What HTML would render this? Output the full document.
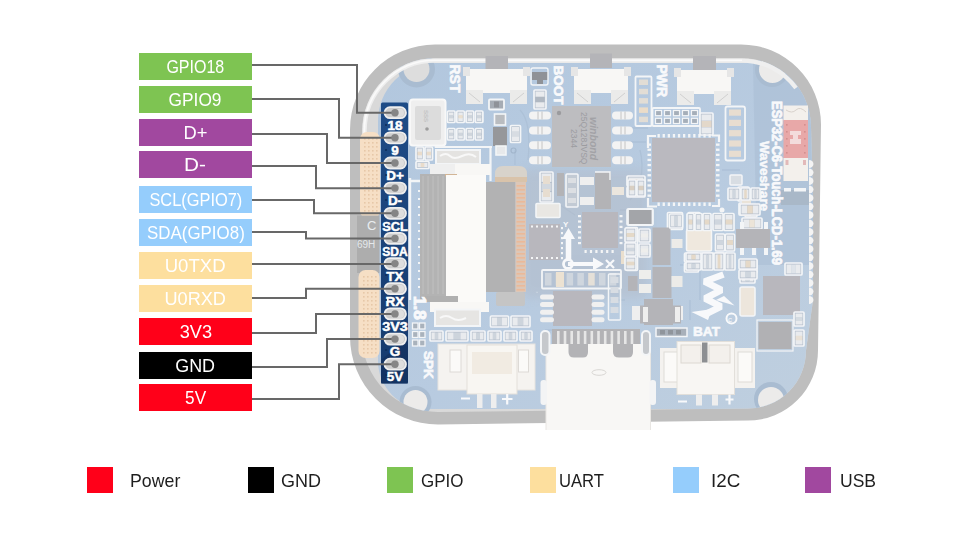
<!DOCTYPE html>
<html><head><meta charset="utf-8"><style>
html,body{margin:0;padding:0;background:#fff;}
body{width:960px;height:533px;position:relative;overflow:hidden;font-family:"Liberation Sans",sans-serif;}
.lb{position:absolute;left:139px;width:113px;height:27px;color:#fff;font-size:19px;line-height:28px;text-align:center;}
.lb span{display:inline-block;transform:scaleX(0.88);transform-origin:50% 50%;white-space:nowrap;}
.sq{position:absolute;top:467px;width:26px;height:26px;}
.lt{position:absolute;top:467px;height:26px;line-height:28px;font-size:19px;color:#1e1e1e;transform-origin:0 50%;white-space:nowrap;}
svg{position:absolute;left:0;top:0;}
</style></head><body>
<div class="lb" style="top:53px;background:#7EC452"><span style="transform:scaleX(0.843)">GPIO18</span></div>
<div class="lb" style="top:86px;background:#7EC452"><span style="transform:scaleX(0.911)">GPIO9</span></div>
<div class="lb" style="top:119px;background:#A1489F"><span style="transform:scaleX(0.965)">D+</span></div>
<div class="lb" style="top:151px;background:#A1489F"><span style="transform:scaleX(1.09)">D-</span></div>
<div class="lb" style="top:186px;background:#95CDFC"><span style="transform:scaleX(0.863)">SCL(GPIO7)</span></div>
<div class="lb" style="top:219px;background:#95CDFC"><span style="transform:scaleX(0.89)">SDA(GPIO8)</span></div>
<div class="lb" style="top:252px;background:#FDDF9E"><span style="transform:scaleX(0.977)">U0TXD</span></div>
<div class="lb" style="top:285px;background:#FDDF9E"><span style="transform:scaleX(0.955)">U0RXD</span></div>
<div class="lb" style="top:318px;background:#FF0019"><span style="transform:scaleX(0.957)">3V3</span></div>
<div class="lb" style="top:352px;background:#000000"><span style="transform:scaleX(0.944)">GND</span></div>
<div class="lb" style="top:384px;background:#FF0019"><span style="transform:scaleX(0.904)">5V</span></div>
<div class="sq" style="left:87px;background:#FF0019"></div><div class="lt" style="left:129.5px;transform:scaleX(0.935)">Power</div>
<div class="sq" style="left:248px;background:#000000"></div><div class="lt" style="left:281px;transform:scaleX(0.946)">GND</div>
<div class="sq" style="left:387px;background:#7EC452"></div><div class="lt" style="left:421px;transform:scaleX(0.893)">GPIO</div>
<div class="sq" style="left:530px;background:#FDDF9E"></div><div class="lt" style="left:559px;transform:scaleX(0.876)">UART</div>
<div class="sq" style="left:673px;background:#95CDFC"></div><div class="lt" style="left:710.7px;transform:scaleX(0.99)">I2C</div>
<div class="sq" style="left:805px;background:#A1489F"></div><div class="lt" style="left:840px;transform:scaleX(0.923)">USB</div>
<svg width="960" height="533" viewBox="0 0 960 533">
<defs><clipPath id="inn"><path d="M435,58.2 L742,58.2 A69,69 0 0 1 811,127 L813,200 L813,300 L806,350.5 A58,58 0 0 1 748,408.5 L438,412 A76,76 0 0 1 362,336 L362,131 A73,73 0 0 1 435,58.2 Z"/></clipPath><linearGradient id="pg" x1="0" y1="0" x2="1" y2="1"><stop offset="0" stop-color="#b2c7de"/><stop offset="0.55" stop-color="#b8cbe0"/><stop offset="1" stop-color="#bfcfdf"/></linearGradient></defs>
<path d="M435,44.5 L741,44.5 A80,80 0 0 1 821,124.5 L818,350.5 A70,70 0 0 1 748,420.5 L438,424.5 A88,88 0 0 1 350,336.5 L350,129.5 A85,85 0 0 1 435,44.5 Z" fill="#bebebe"/>
<g clip-path="url(#inn)">
<rect x="350" y="45" width="470" height="380" fill="#d9d9d9" />
<path d="M436,63 H813 V409 H426 A48,48 0 0 1 378,361 V121 A58,58 0 0 1 436,63 Z" fill="url(#pg)"/>
<g fill="none" stroke="#adc1d7" stroke-width="1.3"><path d="M515,150 V165 M520,110 C530,120 530,140 528,160 M640,150 C645,170 640,190 630,200 M620,210 H650 M700,215 V225 M560,205 L575,215"/><path d="M620,128 H648 M620,142 H646 M722,170 H740 M735,180 L745,195 M560,330 H545 M470,300 V312 M610,300 H625"/><path d="M440,140 H446 M520,168 V180 M700,260 V300 M690,300 V320 M680,265 H690"/></g>
<path d="M753,63 H813 V265 H757 Z" fill="#a9bdd3" opacity="0.55"/>
<defs><filter id="bl" x="-20%" y="-20%" width="140%" height="140%"><feGaussianBlur stdDeviation="5"/></filter></defs>
<rect x="520" y="170" width="128" height="128" rx="10" fill="#b3bbc8" opacity="0.5" filter="url(#bl)"/>
<rect x="781" y="190" width="28" height="15" fill="#a9b8c8" />
<circle cx="416.5" cy="69" r="18.5" fill="#a9bcd1"/>
<circle cx="416.5" cy="69" r="13" fill="#dddddd"/>
<circle cx="772" cy="70" r="17" fill="#a9bcd1"/>
<circle cx="772.5" cy="69.5" r="13.5" fill="#ecebea"/>
<circle cx="415.5" cy="402" r="16" fill="#a9bcd1"/>
<circle cx="415.5" cy="402" r="12" fill="#ecebea"/>
<circle cx="771" cy="399" r="17" fill="#a9bcd1"/>
<circle cx="771" cy="400" r="13" fill="#ecebea"/>
</g>
<path d="M435,60.6 L742,60.6 A66.5,66.5 0 0 1 796,88 M364.6,300 L364.6,131 A70.6,70.6 0 0 1 435,60.6" fill="none" stroke="#efefef" stroke-width="4.2"/>
<path d="M435,60.3 L742,60.3 M364.3,250 L364.3,131 A70.9,70.9 0 0 1 435,60.3" fill="none" stroke="#fafafa" stroke-width="1.6"/>
<g fill="#f4f4f4"><path d="M809,160.0 a4.5,4 0 0 1 0,8 Z"/><path d="M809,168.5 a4.5,4 0 0 1 0,8 Z"/><path d="M809,177.0 a4.5,4 0 0 1 0,8 Z"/><path d="M809,185.5 a4.5,4 0 0 1 0,8 Z"/><path d="M809,194.0 a4.5,4 0 0 1 0,8 Z"/><path d="M809,202.5 a4.5,4 0 0 1 0,8 Z"/><path d="M809,211.0 a4.5,4 0 0 1 0,8 Z"/><path d="M809,219.5 a4.5,4 0 0 1 0,8 Z"/><path d="M809,228.0 a4.5,4 0 0 1 0,8 Z"/><path d="M809,236.5 a4.5,4 0 0 1 0,8 Z"/><path d="M809,245.0 a4.5,4 0 0 1 0,8 Z"/><path d="M809,253.5 a4.5,4 0 0 1 0,8 Z"/><path d="M809,262.0 a4.5,4 0 0 1 0,8 Z"/><path d="M809,270.5 a4.5,4 0 0 1 0,8 Z"/><path d="M809,279.0 a4.5,4 0 0 1 0,8 Z"/><path d="M809,287.5 a4.5,4 0 0 1 0,8 Z"/><path d="M809,296.0 a4.5,4 0 0 1 0,8 Z"/></g>
<rect x="360" y="132" width="20" height="86" rx="7" fill="#f6dfc5"/>
<rect x="357" y="215.5" width="22.5" height="57.5" fill="#adadad" />
<rect x="358.5" y="270" width="21" height="88" rx="7" fill="#f6dfc5"/>
<g fill="#e6c8a8"><rect x="364" y="138" width="1.6" height="1.6"/><rect x="368" y="138" width="1.6" height="1.6"/><rect x="372" y="138" width="1.6" height="1.6"/><rect x="376" y="138" width="1.6" height="1.6"/><rect x="364" y="142" width="1.6" height="1.6"/><rect x="368" y="142" width="1.6" height="1.6"/><rect x="372" y="142" width="1.6" height="1.6"/><rect x="376" y="142" width="1.6" height="1.6"/><rect x="364" y="146" width="1.6" height="1.6"/><rect x="368" y="146" width="1.6" height="1.6"/><rect x="372" y="146" width="1.6" height="1.6"/><rect x="376" y="146" width="1.6" height="1.6"/><rect x="364" y="150" width="1.6" height="1.6"/><rect x="368" y="150" width="1.6" height="1.6"/><rect x="372" y="150" width="1.6" height="1.6"/><rect x="376" y="150" width="1.6" height="1.6"/><rect x="364" y="154" width="1.6" height="1.6"/><rect x="368" y="154" width="1.6" height="1.6"/><rect x="372" y="154" width="1.6" height="1.6"/><rect x="376" y="154" width="1.6" height="1.6"/><rect x="364" y="158" width="1.6" height="1.6"/><rect x="368" y="158" width="1.6" height="1.6"/><rect x="372" y="158" width="1.6" height="1.6"/><rect x="376" y="158" width="1.6" height="1.6"/><rect x="364" y="162" width="1.6" height="1.6"/><rect x="368" y="162" width="1.6" height="1.6"/><rect x="372" y="162" width="1.6" height="1.6"/><rect x="376" y="162" width="1.6" height="1.6"/><rect x="364" y="166" width="1.6" height="1.6"/><rect x="368" y="166" width="1.6" height="1.6"/><rect x="372" y="166" width="1.6" height="1.6"/><rect x="376" y="166" width="1.6" height="1.6"/><rect x="364" y="170" width="1.6" height="1.6"/><rect x="368" y="170" width="1.6" height="1.6"/><rect x="372" y="170" width="1.6" height="1.6"/><rect x="376" y="170" width="1.6" height="1.6"/><rect x="364" y="174" width="1.6" height="1.6"/><rect x="368" y="174" width="1.6" height="1.6"/><rect x="372" y="174" width="1.6" height="1.6"/><rect x="376" y="174" width="1.6" height="1.6"/><rect x="364" y="178" width="1.6" height="1.6"/><rect x="368" y="178" width="1.6" height="1.6"/><rect x="372" y="178" width="1.6" height="1.6"/><rect x="376" y="178" width="1.6" height="1.6"/><rect x="364" y="182" width="1.6" height="1.6"/><rect x="368" y="182" width="1.6" height="1.6"/><rect x="372" y="182" width="1.6" height="1.6"/><rect x="376" y="182" width="1.6" height="1.6"/><rect x="364" y="186" width="1.6" height="1.6"/><rect x="368" y="186" width="1.6" height="1.6"/><rect x="372" y="186" width="1.6" height="1.6"/><rect x="376" y="186" width="1.6" height="1.6"/><rect x="364" y="190" width="1.6" height="1.6"/><rect x="368" y="190" width="1.6" height="1.6"/><rect x="372" y="190" width="1.6" height="1.6"/><rect x="376" y="190" width="1.6" height="1.6"/><rect x="364" y="194" width="1.6" height="1.6"/><rect x="368" y="194" width="1.6" height="1.6"/><rect x="372" y="194" width="1.6" height="1.6"/><rect x="376" y="194" width="1.6" height="1.6"/><rect x="364" y="198" width="1.6" height="1.6"/><rect x="368" y="198" width="1.6" height="1.6"/><rect x="372" y="198" width="1.6" height="1.6"/><rect x="376" y="198" width="1.6" height="1.6"/><rect x="364" y="202" width="1.6" height="1.6"/><rect x="368" y="202" width="1.6" height="1.6"/><rect x="372" y="202" width="1.6" height="1.6"/><rect x="376" y="202" width="1.6" height="1.6"/><rect x="364" y="206" width="1.6" height="1.6"/><rect x="368" y="206" width="1.6" height="1.6"/><rect x="372" y="206" width="1.6" height="1.6"/><rect x="376" y="206" width="1.6" height="1.6"/><rect x="364" y="210" width="1.6" height="1.6"/><rect x="368" y="210" width="1.6" height="1.6"/><rect x="372" y="210" width="1.6" height="1.6"/><rect x="376" y="210" width="1.6" height="1.6"/><rect x="363" y="276" width="1.6" height="1.6"/><rect x="367" y="276" width="1.6" height="1.6"/><rect x="371" y="276" width="1.6" height="1.6"/><rect x="375" y="276" width="1.6" height="1.6"/><rect x="363" y="280" width="1.6" height="1.6"/><rect x="367" y="280" width="1.6" height="1.6"/><rect x="371" y="280" width="1.6" height="1.6"/><rect x="375" y="280" width="1.6" height="1.6"/><rect x="363" y="284" width="1.6" height="1.6"/><rect x="367" y="284" width="1.6" height="1.6"/><rect x="371" y="284" width="1.6" height="1.6"/><rect x="375" y="284" width="1.6" height="1.6"/><rect x="363" y="288" width="1.6" height="1.6"/><rect x="367" y="288" width="1.6" height="1.6"/><rect x="371" y="288" width="1.6" height="1.6"/><rect x="375" y="288" width="1.6" height="1.6"/><rect x="363" y="292" width="1.6" height="1.6"/><rect x="367" y="292" width="1.6" height="1.6"/><rect x="371" y="292" width="1.6" height="1.6"/><rect x="375" y="292" width="1.6" height="1.6"/><rect x="363" y="296" width="1.6" height="1.6"/><rect x="367" y="296" width="1.6" height="1.6"/><rect x="371" y="296" width="1.6" height="1.6"/><rect x="375" y="296" width="1.6" height="1.6"/><rect x="363" y="300" width="1.6" height="1.6"/><rect x="367" y="300" width="1.6" height="1.6"/><rect x="371" y="300" width="1.6" height="1.6"/><rect x="375" y="300" width="1.6" height="1.6"/><rect x="363" y="304" width="1.6" height="1.6"/><rect x="367" y="304" width="1.6" height="1.6"/><rect x="371" y="304" width="1.6" height="1.6"/><rect x="375" y="304" width="1.6" height="1.6"/><rect x="363" y="308" width="1.6" height="1.6"/><rect x="367" y="308" width="1.6" height="1.6"/><rect x="371" y="308" width="1.6" height="1.6"/><rect x="375" y="308" width="1.6" height="1.6"/><rect x="363" y="312" width="1.6" height="1.6"/><rect x="367" y="312" width="1.6" height="1.6"/><rect x="371" y="312" width="1.6" height="1.6"/><rect x="375" y="312" width="1.6" height="1.6"/><rect x="363" y="316" width="1.6" height="1.6"/><rect x="367" y="316" width="1.6" height="1.6"/><rect x="371" y="316" width="1.6" height="1.6"/><rect x="375" y="316" width="1.6" height="1.6"/><rect x="363" y="320" width="1.6" height="1.6"/><rect x="367" y="320" width="1.6" height="1.6"/><rect x="371" y="320" width="1.6" height="1.6"/><rect x="375" y="320" width="1.6" height="1.6"/><rect x="363" y="324" width="1.6" height="1.6"/><rect x="367" y="324" width="1.6" height="1.6"/><rect x="371" y="324" width="1.6" height="1.6"/><rect x="375" y="324" width="1.6" height="1.6"/><rect x="363" y="328" width="1.6" height="1.6"/><rect x="367" y="328" width="1.6" height="1.6"/><rect x="371" y="328" width="1.6" height="1.6"/><rect x="375" y="328" width="1.6" height="1.6"/><rect x="363" y="332" width="1.6" height="1.6"/><rect x="367" y="332" width="1.6" height="1.6"/><rect x="371" y="332" width="1.6" height="1.6"/><rect x="375" y="332" width="1.6" height="1.6"/><rect x="363" y="336" width="1.6" height="1.6"/><rect x="367" y="336" width="1.6" height="1.6"/><rect x="371" y="336" width="1.6" height="1.6"/><rect x="375" y="336" width="1.6" height="1.6"/><rect x="363" y="340" width="1.6" height="1.6"/><rect x="367" y="340" width="1.6" height="1.6"/><rect x="371" y="340" width="1.6" height="1.6"/><rect x="375" y="340" width="1.6" height="1.6"/><rect x="363" y="344" width="1.6" height="1.6"/><rect x="367" y="344" width="1.6" height="1.6"/><rect x="371" y="344" width="1.6" height="1.6"/><rect x="375" y="344" width="1.6" height="1.6"/><rect x="363" y="348" width="1.6" height="1.6"/><rect x="367" y="348" width="1.6" height="1.6"/><rect x="371" y="348" width="1.6" height="1.6"/><rect x="375" y="348" width="1.6" height="1.6"/><rect x="363" y="352" width="1.6" height="1.6"/><rect x="367" y="352" width="1.6" height="1.6"/><rect x="371" y="352" width="1.6" height="1.6"/><rect x="375" y="352" width="1.6" height="1.6"/></g>
<text x="367" y="230" font-family="Liberation Sans" font-size="13" fill="#e9edf0">C</text>
<text x="357" y="248" font-family="Liberation Sans" font-size="10" fill="#e4e8ea">69H</text>
<rect x="485.5" y="56" width="22.5" height="14.5" fill="#b4b4b8" />
<rect x="466" y="69" width="61" height="24" fill="#f8f7f5" />
<rect x="466" y="90" width="17" height="14" fill="#ebebea" />
<rect x="510" y="90" width="17" height="14" fill="#ebebea" />
<path d="M469,93 L480,102 M524,93 L513,102" stroke="#d0d0d0" stroke-width="1"/>
<rect x="463" y="67" width="7" height="9" fill="#e6e6e6" />
<rect x="523" y="67" width="7" height="9" fill="#e6e6e6" />
<rect x="590" y="53.5" width="22" height="14.5" fill="#b4b4b8" />
<rect x="574" y="69" width="54" height="24" fill="#f8f7f5" />
<rect x="574" y="90" width="17" height="14" fill="#ebebea" />
<rect x="611" y="90" width="17" height="14" fill="#ebebea" />
<path d="M577,93 L588,102 M625,93 L614,102" stroke="#d0d0d0" stroke-width="1"/>
<rect x="571" y="67" width="7" height="9" fill="#e6e6e6" />
<rect x="624" y="67" width="7" height="9" fill="#e6e6e6" />
<rect x="693" y="56" width="23" height="14.5" fill="#b4b4b8" />
<rect x="677" y="70" width="54" height="24" fill="#f8f7f5" />
<rect x="677" y="91" width="17" height="14" fill="#ebebea" />
<rect x="714" y="91" width="17" height="14" fill="#ebebea" />
<path d="M680,94 L691,103 M728,94 L717,103" stroke="#d0d0d0" stroke-width="1"/>
<rect x="674" y="68" width="7" height="9" fill="#e6e6e6" />
<rect x="727" y="68" width="7" height="9" fill="#e6e6e6" />
<text x="449.5" y="64.5" transform="rotate(90 449.5 64.5)" font-family="Liberation Sans" font-weight="bold" font-size="14" fill="#f8f9fb" stroke="#f8f9fb" stroke-width="0.7" >RST</text>
<text x="553.5" y="65.5" transform="rotate(90 553.5 65.5)" font-family="Liberation Sans" font-weight="bold" font-size="13.5" fill="#f8f9fb" stroke="#f8f9fb" stroke-width="0.7" >BOOT</text>
<text x="656.5" y="64.5" transform="rotate(90 656.5 64.5)" font-family="Liberation Sans" font-weight="bold" font-size="14" fill="#f8f9fb" stroke="#f8f9fb" stroke-width="0.7" >PWR</text>
<rect x="410" y="99.5" width="35.5" height="46" rx="3" fill="#efefef" stroke="#f8f8f8" stroke-width="2"/>
<rect x="415" y="106" width="26" height="34" rx="2" fill="#dcdcdc"/>
<text x="424" y="110" transform="rotate(90 424 110)" font-family="Liberation Sans" font-size="6" fill="#b5b5b5">SSS</text>
<circle cx="427" cy="129" r="1.8" fill="#9d9d9d"/>
<rect x="447.5" y="111.0" width="7.5" height="11.5" rx="1" fill="#b4bfcc" stroke="#f3f5f7" stroke-width="1.7"/>
<rect x="449.0" y="112.5" width="4.5" height="3.22" fill="#e9ebee" />
<rect x="449.0" y="117.78" width="4.5" height="3.22" fill="#e9ebee" />
<rect x="449.0" y="115.14" width="4.5" height="3.22" fill="#cfd5dc" />
<rect x="456.8" y="111.0" width="7.5" height="11.5" rx="1" fill="#b4bfcc" stroke="#f3f5f7" stroke-width="1.7"/>
<rect x="458.3" y="112.5" width="4.5" height="3.22" fill="#e9ebee" />
<rect x="458.3" y="117.78" width="4.5" height="3.22" fill="#e9ebee" />
<rect x="458.3" y="115.14" width="4.5" height="3.22" fill="#eadfcf" />
<rect x="466.1" y="111.0" width="7.5" height="11.5" rx="1" fill="#b4bfcc" stroke="#f3f5f7" stroke-width="1.7"/>
<rect x="467.6" y="112.5" width="4.5" height="3.22" fill="#e9ebee" />
<rect x="467.6" y="117.78" width="4.5" height="3.22" fill="#e9ebee" />
<rect x="467.6" y="115.14" width="4.5" height="3.22" fill="#cfd5dc" />
<rect x="475.4" y="111.0" width="7.5" height="11.5" rx="1" fill="#b4bfcc" stroke="#f3f5f7" stroke-width="1.7"/>
<rect x="476.9" y="112.5" width="4.5" height="3.22" fill="#e9ebee" />
<rect x="476.9" y="117.78" width="4.5" height="3.22" fill="#e9ebee" />
<rect x="476.9" y="115.14" width="4.5" height="3.22" fill="#cfd5dc" />
<rect x="447.5" y="128.5" width="7.5" height="11.5" rx="1" fill="#b4bfcc" stroke="#f3f5f7" stroke-width="1.7"/>
<rect x="449.0" y="130.0" width="4.5" height="3.22" fill="#e9ebee" />
<rect x="449.0" y="135.28" width="4.5" height="3.22" fill="#e9ebee" />
<rect x="449.0" y="132.64" width="4.5" height="3.22" fill="#cfd5dc" />
<rect x="456.8" y="128.5" width="7.5" height="11.5" rx="1" fill="#b4bfcc" stroke="#f3f5f7" stroke-width="1.7"/>
<rect x="458.3" y="130.0" width="4.5" height="3.22" fill="#e9ebee" />
<rect x="458.3" y="135.28" width="4.5" height="3.22" fill="#e9ebee" />
<rect x="458.3" y="132.64" width="4.5" height="3.22" fill="#cfd5dc" />
<rect x="466.1" y="128.5" width="7.5" height="11.5" rx="1" fill="#b4bfcc" stroke="#f3f5f7" stroke-width="1.7"/>
<rect x="467.6" y="130.0" width="4.5" height="3.22" fill="#e9ebee" />
<rect x="467.6" y="135.28" width="4.5" height="3.22" fill="#e9ebee" />
<rect x="467.6" y="132.64" width="4.5" height="3.22" fill="#cfd5dc" />
<rect x="475.4" y="128.5" width="7.5" height="11.5" rx="1" fill="#b4bfcc" stroke="#f3f5f7" stroke-width="1.7"/>
<rect x="476.9" y="130.0" width="4.5" height="3.22" fill="#e9ebee" />
<rect x="476.9" y="135.28" width="4.5" height="3.22" fill="#e9ebee" />
<rect x="476.9" y="132.64" width="4.5" height="3.22" fill="#cfd5dc" />
<rect x="489" y="99.5" width="15" height="10" rx="1" fill="#a6acb4" stroke="#f3f5f7" stroke-width="1.8"/>
<rect x="494" y="101.5" width="5" height="6" fill="#8f9298" />
<rect x="493" y="127" width="14" height="19" fill="#96979a" />
<rect x="494.5" y="114" width="11" height="11" rx="0" fill="#b9bcc0" stroke="#f3f5f7" stroke-width="1.6"/>
<rect x="496" y="146" width="10" height="9" rx="0" fill="#e7e9eb" stroke="#f3f5f7" stroke-width="1.6"/>
<rect x="510.5" y="125.5" width="10" height="17" rx="1" fill="#b4bfcc" stroke="#f3f5f7" stroke-width="1.7"/>
<rect x="512.0" y="127.0" width="7" height="4.760000000000001" fill="#e9ebee" />
<rect x="512.0" y="136.24" width="7" height="4.760000000000001" fill="#e9ebee" />
<rect x="512.0" y="131.62" width="7" height="4.760000000000001" fill="#d7dce2" />
<rect x="534" y="90" width="12" height="19" rx="1" fill="#b4bfcc" stroke="#f3f5f7" stroke-width="1.7"/>
<rect x="535.5" y="91.5" width="9" height="5.32" fill="#e9ebee" />
<rect x="535.5" y="102.18" width="9" height="5.32" fill="#e9ebee" />
<rect x="535.5" y="96.84" width="9" height="5.32" fill="#b0b8c2" />
<path d="M532,72 H548 V80 H543 V84 H537 V80 H532 Z" fill="#8f9297"/>
<rect x="531" y="68" width="17" height="17" rx="2" fill="none" stroke="#f3f5f7" stroke-width="1.4"/>
<circle cx="513.5" cy="150.5" r="2.5" fill="none" stroke="#a2b6cc" stroke-width="1.2"/>
<rect x="552" y="106" width="59" height="61" fill="#bdbdc0" />
<rect x="529" y="111.5" width="22" height="8" rx="4" fill="#f3f3f3"/>
<rect x="612" y="111.5" width="21" height="8" rx="4" fill="#f3f3f3"/>
<path d="M538,111.5 V119.5 M542,111.5 V119.5 M621,111.5 V119.5 M625,111.5 V119.5" stroke="#c4c4c4" stroke-width="1"/>
<rect x="529" y="126.4" width="22" height="8" rx="4" fill="#f3f3f3"/>
<rect x="612" y="126.4" width="21" height="8" rx="4" fill="#f3f3f3"/>
<path d="M538,126.4 V134.4 M542,126.4 V134.4 M621,126.4 V134.4 M625,126.4 V134.4" stroke="#c4c4c4" stroke-width="1"/>
<rect x="529" y="141.3" width="22" height="8" rx="4" fill="#f3f3f3"/>
<rect x="612" y="141.3" width="21" height="8" rx="4" fill="#f3f3f3"/>
<path d="M538,141.3 V149.3 M542,141.3 V149.3 M621,141.3 V149.3 M625,141.3 V149.3" stroke="#c4c4c4" stroke-width="1"/>
<rect x="529" y="156.2" width="22" height="8" rx="4" fill="#f3f3f3"/>
<rect x="612" y="156.2" width="21" height="8" rx="4" fill="#f3f3f3"/>
<path d="M538,156.2 V164.2 M542,156.2 V164.2 M621,156.2 V164.2 M625,156.2 V164.2" stroke="#c4c4c4" stroke-width="1"/>
<circle cx="559" cy="113" r="2.2" fill="#9b9b9e"/>
<text x="590" y="117" transform="rotate(90 590 117)" font-family="Liberation Sans" font-weight="bold" font-size="10.5" fill="#a2a2a6" font-style="italic">winbond</text>
<text x="581" y="112" transform="rotate(90 581 112)" font-family="Liberation Sans" font-weight="normal" font-size="8.5" fill="#9c9ca0" >25Q128JVSQ</text>
<text x="571" y="129" transform="rotate(90 571 129)" font-family="Liberation Sans" font-weight="normal" font-size="8.5" fill="#9c9ca0" >2344</text>
<rect x="635.5" y="76.5" width="16" height="49.5" rx="1" fill="none" stroke="#f3f5f7" stroke-width="1.8"/>
<rect x="639" y="79.5" width="9" height="5.5" fill="#e2ddd5" />
<rect x="639" y="88.8" width="9" height="5.5" fill="#e2ddd5" />
<rect x="639" y="98.1" width="9" height="5.5" fill="#e2ddd5" />
<rect x="639" y="107.4" width="9" height="5.5" fill="#ebdcc8" />
<rect x="639" y="116.7" width="9" height="5.5" fill="#e2ddd5" />
<rect x="652.5" y="108" width="47.5" height="18" rx="1" fill="none" stroke="#f3f5f7" stroke-width="1.8"/>
<rect x="655.5" y="110.5" width="6" height="5.2" rx="0" fill="#a5aeb9" stroke="#f3f5f7" stroke-width="1.2"/>
<rect x="664.5" y="110.5" width="6" height="5.2" rx="0" fill="#a5aeb9" stroke="#f3f5f7" stroke-width="1.2"/>
<rect x="673.5" y="110.5" width="6" height="5.2" rx="0" fill="#a5aeb9" stroke="#f3f5f7" stroke-width="1.2"/>
<rect x="682.5" y="110.5" width="6" height="5.2" rx="0" fill="#a5aeb9" stroke="#f3f5f7" stroke-width="1.2"/>
<rect x="691.5" y="110.5" width="6" height="5.2" rx="0" fill="#a5aeb9" stroke="#f3f5f7" stroke-width="1.2"/>
<rect x="655.5" y="118.3" width="6" height="5.2" rx="0" fill="#a5aeb9" stroke="#f3f5f7" stroke-width="1.2"/>
<rect x="664.5" y="118.3" width="6" height="5.2" rx="0" fill="#a5aeb9" stroke="#f3f5f7" stroke-width="1.2"/>
<rect x="673.5" y="118.3" width="6" height="5.2" rx="0" fill="#a5aeb9" stroke="#f3f5f7" stroke-width="1.2"/>
<rect x="682.5" y="118.3" width="6" height="5.2" rx="0" fill="#a5aeb9" stroke="#f3f5f7" stroke-width="1.2"/>
<rect x="691.5" y="118.3" width="6" height="5.2" rx="0" fill="#a5aeb9" stroke="#f3f5f7" stroke-width="1.2"/>
<rect x="725.5" y="106.5" width="19.5" height="54" rx="2" fill="none" stroke="#f3f5f7" stroke-width="1.8"/>
<rect x="729" y="109.5" width="12" height="6.2" fill="#e8ddd0" />
<rect x="729" y="119.8" width="12" height="6.2" fill="#e8ddd0" />
<rect x="729" y="130.1" width="12" height="6.2" fill="#e8ddd0" />
<rect x="729" y="140.4" width="12" height="6.2" fill="#e8ddd0" />
<rect x="729" y="150.7" width="12" height="6.2" fill="#e8ddd0" />
<rect x="700" y="113" width="13" height="22" rx="1" fill="#b4bfcc" stroke="#f3f5f7" stroke-width="1.7"/>
<rect x="701.5" y="114.5" width="10" height="6.16" fill="#e9ebee" />
<rect x="701.5" y="127.34" width="10" height="6.16" fill="#e9ebee" />
<rect x="701.5" y="120.92" width="10" height="6.16" fill="#e3d8ca" />
<rect x="652" y="138" width="63" height="64" fill="#bab9bf" />
<g fill="#f4f5f6"><rect x="657.5" y="134" width="2.3" height="3.5"/><rect x="657.5" y="202.5" width="2.3" height="3.5"/><rect x="647.5" y="143.5" width="3.5" height="2.3"/><rect x="716" y="143.5" width="3.5" height="2.3"/><rect x="662.6" y="134" width="2.3" height="3.5"/><rect x="662.6" y="202.5" width="2.3" height="3.5"/><rect x="647.5" y="148.6" width="3.5" height="2.3"/><rect x="716" y="148.6" width="3.5" height="2.3"/><rect x="667.7" y="134" width="2.3" height="3.5"/><rect x="667.7" y="202.5" width="2.3" height="3.5"/><rect x="647.5" y="153.7" width="3.5" height="2.3"/><rect x="716" y="153.7" width="3.5" height="2.3"/><rect x="672.8" y="134" width="2.3" height="3.5"/><rect x="672.8" y="202.5" width="2.3" height="3.5"/><rect x="647.5" y="158.8" width="3.5" height="2.3"/><rect x="716" y="158.8" width="3.5" height="2.3"/><rect x="677.9" y="134" width="2.3" height="3.5"/><rect x="677.9" y="202.5" width="2.3" height="3.5"/><rect x="647.5" y="163.9" width="3.5" height="2.3"/><rect x="716" y="163.9" width="3.5" height="2.3"/><rect x="683.0" y="134" width="2.3" height="3.5"/><rect x="683.0" y="202.5" width="2.3" height="3.5"/><rect x="647.5" y="169.0" width="3.5" height="2.3"/><rect x="716" y="169.0" width="3.5" height="2.3"/><rect x="688.1" y="134" width="2.3" height="3.5"/><rect x="688.1" y="202.5" width="2.3" height="3.5"/><rect x="647.5" y="174.1" width="3.5" height="2.3"/><rect x="716" y="174.1" width="3.5" height="2.3"/><rect x="693.2" y="134" width="2.3" height="3.5"/><rect x="693.2" y="202.5" width="2.3" height="3.5"/><rect x="647.5" y="179.2" width="3.5" height="2.3"/><rect x="716" y="179.2" width="3.5" height="2.3"/><rect x="698.3" y="134" width="2.3" height="3.5"/><rect x="698.3" y="202.5" width="2.3" height="3.5"/><rect x="647.5" y="184.3" width="3.5" height="2.3"/><rect x="716" y="184.3" width="3.5" height="2.3"/><rect x="703.4" y="134" width="2.3" height="3.5"/><rect x="703.4" y="202.5" width="2.3" height="3.5"/><rect x="647.5" y="189.4" width="3.5" height="2.3"/><rect x="716" y="189.4" width="3.5" height="2.3"/><rect x="708.5" y="134" width="2.3" height="3.5"/><rect x="708.5" y="202.5" width="2.3" height="3.5"/><rect x="647.5" y="194.5" width="3.5" height="2.3"/><rect x="716" y="194.5" width="3.5" height="2.3"/></g>
<path d="M648,148 V136 H656 M712,135.5 H719 V142 M719,199 V206 H712 M657,206.5 H648 V198" fill="none" stroke="#f4f5f6" stroke-width="2.2"/>
<circle cx="722" cy="210" r="2.5" fill="#f4f5f6"/>
<rect x="738" y="187" width="11" height="14" rx="1" fill="#b4bfcc" stroke="#f3f5f7" stroke-width="1.7"/>
<rect x="739.5" y="188.5" width="8" height="3.9200000000000004" fill="#e9ebee" />
<rect x="739.5" y="195.58" width="8" height="3.9200000000000004" fill="#e9ebee" />
<rect x="739.5" y="192.04" width="8" height="3.9200000000000004" fill="#cfd6de" />
<rect x="739" y="203" width="9" height="12" rx="1" fill="#b4bfcc" stroke="#f3f5f7" stroke-width="1.7"/>
<rect x="740.5" y="204.5" width="6" height="3.3600000000000003" fill="#e9ebee" />
<rect x="740.5" y="210.14" width="6" height="3.3600000000000003" fill="#e9ebee" />
<rect x="740.5" y="207.32" width="6" height="3.3600000000000003" fill="#cfd6de" />
<rect x="745" y="205" width="12" height="12" rx="1" fill="#c9d0d8" stroke="#f3f5f7" stroke-width="1.5"/>
<rect x="730" y="175" width="12" height="10" rx="1" fill="#d8dde3" stroke="#f3f5f7" stroke-width="1.5"/>
<rect x="742" y="200" width="9" height="16" fill="#eae3d8" />
<rect x="742" y="218" width="20" height="11" rx="1" fill="#b4bfcc" stroke="#f3f5f7" stroke-width="1.7"/>
<rect x="743.5" y="219.5" width="5.6000000000000005" height="8" fill="#e9ebee" />
<rect x="754.9" y="219.5" width="5.6000000000000005" height="8" fill="#e9ebee" />
<rect x="749.2" y="219.5" width="5.6000000000000005" height="8" fill="#ece4d8" />
<rect x="736" y="229" width="34" height="19" fill="#b4b4b8" />
<rect x="740" y="248" width="4" height="7" fill="#f3f5f7" />
<rect x="752" y="248" width="4" height="7" fill="#f3f5f7" />
<rect x="764" y="248" width="4" height="7" fill="#f3f5f7" />
<rect x="740" y="222" width="4" height="7" fill="#f3f5f7" />
<rect x="764" y="222" width="4" height="7" fill="#f3f5f7" />
<text x="771.5" y="101" transform="rotate(90 771.5 101)" font-family="Liberation Sans" font-weight="bold" font-size="14.5" fill="#f8f9fb" stroke="#f8f9fb" stroke-width="0.8" textLength="164" lengthAdjust="spacingAndGlyphs">ESP32-C6-Touch-LCD-1.69</text>
<text x="760" y="141" transform="rotate(90 760 141)" font-family="Liberation Sans" font-weight="bold" font-size="12.5" fill="#f8f9fb" stroke="#f8f9fb" stroke-width="0.5" textLength="70" lengthAdjust="spacingAndGlyphs">Waveshare</text>
<rect x="783.5" y="105.5" width="24.5" height="15" fill="#f3f0ec" />
<path d="M786,110 Q792,114 796,110 T806,112" stroke="#d8d2cc" stroke-width="1" fill="none"/>
<rect x="783.5" y="120" width="24.5" height="38" fill="#e8a8a8" />
<path d="M790,131 h11 v4 h-3 v4 h3 v5 h-11 v-5 h3 v-4 h-3 Z" fill="#f3dcdc"/>
<rect x="786" y="124" width="1.6" height="1.6" fill="#d38f8f" />
<rect x="804" y="124" width="1.6" height="1.6" fill="#d38f8f" />
<rect x="786" y="131" width="1.6" height="1.6" fill="#d38f8f" />
<rect x="804" y="131" width="1.6" height="1.6" fill="#d38f8f" />
<rect x="786" y="138" width="1.6" height="1.6" fill="#d38f8f" />
<rect x="804" y="138" width="1.6" height="1.6" fill="#d38f8f" />
<rect x="786" y="145" width="1.6" height="1.6" fill="#d38f8f" />
<rect x="804" y="145" width="1.6" height="1.6" fill="#d38f8f" />
<rect x="786" y="152" width="1.6" height="1.6" fill="#d38f8f" />
<rect x="804" y="152" width="1.6" height="1.6" fill="#d38f8f" />
<rect x="783.5" y="158" width="24.5" height="23" fill="#f3f0ec" />
<rect x="785.5" y="160" width="3" height="5" fill="#e2b9b9" />
<rect x="803" y="160" width="3" height="5" fill="#e2b9b9" />
<rect x="784" y="188" width="7" height="3.5" fill="#f3f5f7" />
<rect x="794" y="188" width="12" height="3.5" fill="#f3f5f7" />
<path d="M410,178 V300 M410,181 H420" stroke="#f3f5f7" stroke-width="2.4" fill="none"/>
<rect x="416" y="147" width="7.5" height="13" rx="1" fill="#b4bfcc" stroke="#f3f5f7" stroke-width="1.7"/>
<rect x="417.5" y="148.5" width="4.5" height="3.6400000000000006" fill="#e9ebee" />
<rect x="417.5" y="154.86" width="4.5" height="3.6400000000000006" fill="#e9ebee" />
<rect x="417.5" y="151.68" width="4.5" height="3.6400000000000006" fill="#e9dccb" />
<rect x="425" y="147" width="7.5" height="13" rx="1" fill="#b4bfcc" stroke="#f3f5f7" stroke-width="1.7"/>
<rect x="426.5" y="148.5" width="4.5" height="3.6400000000000006" fill="#e9ebee" />
<rect x="426.5" y="154.86" width="4.5" height="3.6400000000000006" fill="#e9ebee" />
<rect x="426.5" y="151.68" width="4.5" height="3.6400000000000006" fill="#e9dccb" />
<rect x="416" y="161.5" width="13" height="7" rx="1" fill="#b4bfcc" stroke="#f3f5f7" stroke-width="1.7"/>
<rect x="417.5" y="163.0" width="3.6400000000000006" height="4" fill="#e9ebee" />
<rect x="423.86" y="163.0" width="3.6400000000000006" height="4" fill="#e9ebee" />
<rect x="420.68" y="163.0" width="3.6400000000000006" height="4" fill="#e9dccb" />
<path d="M434.7,147 H492 M490.5,147 V181" stroke="#f3f5f7" stroke-width="2.2" fill="none"/>
<rect x="436" y="150" width="44" height="14" rx="0" fill="#e4e3e1" stroke="#f3f5f7" stroke-width="2"/>
<path d="M440,156 q6,-4 10,0 t12,0 t14,1" stroke="#f8f8f8" stroke-width="2" fill="none"/>
<rect x="430" y="164" width="60" height="11" fill="#f8f7f5" />
<rect x="430" y="164" width="25" height="11" fill="#efefef" />
<rect x="420" y="174" width="26" height="122" fill="#b3b3b3" />
<line x1="423" y1="176" x2="423" y2="294" stroke="#bdbdbd" stroke-width="1.4"/>
<line x1="428" y1="176" x2="428" y2="294" stroke="#bdbdbd" stroke-width="1.4"/>
<line x1="433" y1="176" x2="433" y2="294" stroke="#bdbdbd" stroke-width="1.4"/>
<line x1="438" y1="176" x2="438" y2="294" stroke="#bdbdbd" stroke-width="1.4"/>
<line x1="443" y1="176" x2="443" y2="294" stroke="#bdbdbd" stroke-width="1.4"/>
<rect x="445" y="174" width="12" height="2.5" fill="#d2b596" />
<rect x="446" y="175" width="40" height="128" fill="#fbfaf8" />
<rect x="420" y="296" width="38" height="6" fill="#b0b0b0" />
<rect x="430" y="302" width="59" height="10" fill="#f8f7f5" />
<path d="M495,182 V174 Q495,166 503,166 H519 Q527,166 527,174 V182 Z" fill="#d8d3cb"/>
<rect x="495" y="177" width="32" height="5" fill="#d9c3aa" />
<rect x="486" y="182" width="29.5" height="110" fill="#b2b2b3" />
<rect x="515.5" y="182" width="10.5" height="110" fill="#dcc7b8" />
<g fill="#ebb999"><rect x="516.5" y="185" width="8.5" height="1.6"/><rect x="516.5" y="189" width="8.5" height="1.6"/><rect x="516.5" y="193" width="8.5" height="1.6"/><rect x="516.5" y="197" width="8.5" height="1.6"/><rect x="516.5" y="201" width="8.5" height="1.6"/><rect x="516.5" y="205" width="8.5" height="1.6"/><rect x="516.5" y="209" width="8.5" height="1.6"/><rect x="516.5" y="213" width="8.5" height="1.6"/><rect x="516.5" y="217" width="8.5" height="1.6"/><rect x="516.5" y="221" width="8.5" height="1.6"/><rect x="516.5" y="225" width="8.5" height="1.6"/><rect x="516.5" y="229" width="8.5" height="1.6"/><rect x="516.5" y="233" width="8.5" height="1.6"/><rect x="516.5" y="237" width="8.5" height="1.6"/><rect x="516.5" y="241" width="8.5" height="1.6"/><rect x="516.5" y="245" width="8.5" height="1.6"/><rect x="516.5" y="249" width="8.5" height="1.6"/><rect x="516.5" y="253" width="8.5" height="1.6"/><rect x="516.5" y="257" width="8.5" height="1.6"/><rect x="516.5" y="261" width="8.5" height="1.6"/><rect x="516.5" y="265" width="8.5" height="1.6"/><rect x="516.5" y="269" width="8.5" height="1.6"/><rect x="516.5" y="273" width="8.5" height="1.6"/><rect x="516.5" y="277" width="8.5" height="1.6"/><rect x="516.5" y="281" width="8.5" height="1.6"/><rect x="516.5" y="285" width="8.5" height="1.6"/><rect x="516.5" y="289" width="8.5" height="1.6"/></g>
<rect x="496" y="292" width="29" height="14" rx="2" fill="#c5c5c5"/>
<rect x="418" y="190" width="2" height="2" fill="#f3f5f7" />
<rect x="418" y="198" width="2" height="2" fill="#f3f5f7" />
<rect x="418" y="206" width="2" height="2" fill="#f3f5f7" />
<rect x="418" y="214" width="2" height="2" fill="#f3f5f7" />
<rect x="418" y="222" width="2" height="2" fill="#f3f5f7" />
<rect x="418" y="230" width="2" height="2" fill="#f3f5f7" />
<rect x="418" y="238" width="2" height="2" fill="#f3f5f7" />
<rect x="418" y="246" width="2" height="2" fill="#f3f5f7" />
<rect x="418" y="254" width="2" height="2" fill="#f3f5f7" />
<rect x="418" y="262" width="2" height="2" fill="#f3f5f7" />
<rect x="418" y="270" width="2" height="2" fill="#f3f5f7" />
<rect x="418" y="278" width="2" height="2" fill="#f3f5f7" />
<rect x="418" y="286" width="2" height="2" fill="#f3f5f7" />
<rect x="529" y="224" width="31" height="36" fill="#b8b7bd" />
<g fill="#f4f5f6"><rect x="531" y="225.5" width="2" height="2"/><rect x="536" y="225.5" width="2" height="2"/><rect x="541" y="225.5" width="2" height="2"/><rect x="546" y="225.5" width="2" height="2"/><rect x="551" y="225.5" width="2" height="2"/><rect x="556" y="225.5" width="2" height="2"/><rect x="531" y="257" width="2" height="2"/><rect x="536" y="257" width="2" height="2"/><rect x="541" y="257" width="2" height="2"/><rect x="546" y="257" width="2" height="2"/><rect x="551" y="257" width="2" height="2"/><rect x="556" y="257" width="2" height="2"/><rect x="561" y="227" width="2" height="2.2"/><rect x="561" y="232" width="2" height="2.2"/><rect x="561" y="237" width="2" height="2.2"/><rect x="561" y="242" width="2" height="2.2"/><rect x="561" y="247" width="2" height="2.2"/><rect x="561" y="252" width="2" height="2.2"/><rect x="561" y="257" width="2" height="2.2"/></g>
<rect x="582" y="212" width="36" height="36" fill="#b8b7bd" />
<g fill="#f4f5f6"><rect x="584.5" y="250" width="2.2" height="3"/><rect x="589.9" y="250" width="2.2" height="3"/><rect x="595.3" y="250" width="2.2" height="3"/><rect x="600.7" y="250" width="2.2" height="3"/><rect x="606.1" y="250" width="2.2" height="3"/><rect x="611.5" y="250" width="2.2" height="3"/><rect x="619.5" y="215.0" width="3" height="2.2"/><rect x="619.5" y="220.4" width="3" height="2.2"/><rect x="619.5" y="225.8" width="3" height="2.2"/><rect x="619.5" y="231.2" width="3" height="2.2"/><rect x="619.5" y="236.6" width="3" height="2.2"/><rect x="619.5" y="242.0" width="3" height="2.2"/><rect x="578" y="215.0" width="3" height="2.2"/><rect x="578" y="220.4" width="3" height="2.2"/><rect x="578" y="225.8" width="3" height="2.2"/><rect x="578" y="231.2" width="3" height="2.2"/><rect x="578" y="236.6" width="3" height="2.2"/><rect x="578" y="242.0" width="3" height="2.2"/></g>
<rect x="540" y="172" width="13" height="30" rx="1" fill="#b4bfcc" stroke="#f3f5f7" stroke-width="1.7"/>
<rect x="541.5" y="173.5" width="10" height="8.4" fill="#e9ebee" />
<rect x="541.5" y="192.1" width="10" height="8.4" fill="#e9ebee" />
<rect x="541.5" y="182.8" width="10" height="8.4" fill="#d2d8df" />
<rect x="543" y="176" width="7" height="8" fill="#e7ddd0" />
<rect x="543" y="189" width="7" height="8" fill="#e7ddd0" />
<rect x="536" y="203.5" width="24" height="14" rx="1" fill="#e9e7e3" stroke="#f3f5f7" stroke-width="1.6"/>
<rect x="557" y="173" width="7" height="23" fill="#b3b3b6" />
<rect x="566" y="174" width="12" height="33" rx="1" fill="#c2cad4" stroke="#f3f5f7" stroke-width="1.6"/>
<rect x="568" y="178" width="8" height="5" fill="#dcdfe3" />
<rect x="568" y="188" width="8" height="5" fill="#dcdfe3" />
<rect x="568" y="198" width="8" height="5" fill="#dcdfe3" />
<rect x="580" y="177" width="14" height="8" fill="#efefef" />
<rect x="580" y="197" width="14" height="8" fill="#efefef" />
<rect x="595" y="172" width="16" height="37" fill="#b3b3b6" />
<path d="M595,172 H610 V180" stroke="#f3f5f7" stroke-width="1.4" fill="none"/>
<rect x="612" y="187" width="12" height="8" fill="#ebe6de" />
<rect x="627" y="176" width="18" height="10" rx="1" fill="#b4bfcc" stroke="#f3f5f7" stroke-width="1.7"/>
<rect x="628.5" y="177.5" width="15" height="2.8000000000000003" fill="#e9ebee" />
<rect x="628.5" y="181.7" width="15" height="2.8000000000000003" fill="#e9ebee" />
<rect x="628.5" y="179.6" width="15" height="2.8000000000000003" fill="#dfd5c8" />
<rect x="627" y="187" width="18" height="10" rx="1" fill="#b4bfcc" stroke="#f3f5f7" stroke-width="1.7"/>
<rect x="628.5" y="188.5" width="15" height="2.8000000000000003" fill="#e9ebee" />
<rect x="628.5" y="192.7" width="15" height="2.8000000000000003" fill="#e9ebee" />
<rect x="628.5" y="190.6" width="15" height="2.8000000000000003" fill="#b8c0ca" />
<rect x="627" y="209" width="26" height="16" rx="1" fill="#b3b8be" stroke="#f3f5f7" stroke-width="1.6"/>
<rect x="667.5" y="212.5" width="15" height="17" rx="1" fill="#b4bfcc" stroke="#f3f5f7" stroke-width="1.7"/>
<rect x="669.0" y="214.0" width="12" height="4.760000000000001" fill="#e9ebee" />
<rect x="669.0" y="223.24" width="12" height="4.760000000000001" fill="#e9ebee" />
<rect x="669.0" y="218.62" width="12" height="4.760000000000001" fill="#cdd4dc" />
<rect x="688" y="212.5" width="12" height="17" rx="1" fill="#b4bfcc" stroke="#f3f5f7" stroke-width="1.7"/>
<rect x="689.5" y="214.0" width="9" height="4.760000000000001" fill="#e9ebee" />
<rect x="689.5" y="223.24" width="9" height="4.760000000000001" fill="#e9ebee" />
<rect x="689.5" y="218.62" width="9" height="4.760000000000001" fill="#cdd4dc" />
<g stroke="#f8f9fb" fill="none"><path d="M568.5,259 V234" stroke-width="5.5"/><path d="M568,269 H597" stroke-width="4" transform="translate(0,-5)"/><circle cx="568" cy="264" r="4.5" stroke-width="2.8"/><path d="M606,260 L614,268 M614,260 L606,268" stroke-width="2.2"/></g>
<path d="M562,239 L568.5,228 L575,239 Z M593,257.5 L604,264 L593,270.5 Z" fill="#f8f9fb"/>
<text x="563" y="227" font-family="Liberation Sans" font-weight="bold" font-size="8" fill="#f8f9fb">Y</text>
<rect x="542" y="270" width="79" height="18.5" rx="1" fill="none" stroke="#f3f5f7" stroke-width="1.8"/>
<rect x="545.0" y="273" width="6.5" height="12.5" fill="#cfd6de" />
<rect x="555.8" y="273" width="6.5" height="12.5" fill="#e5e0d8" />
<rect x="566.6" y="273" width="6.5" height="12.5" fill="#cfd6de" />
<rect x="577.4" y="273" width="6.5" height="12.5" fill="#cfd6de" />
<rect x="588.2" y="273" width="6.5" height="12.5" fill="#e5e0d8" />
<rect x="599.0" y="273" width="6.5" height="12.5" fill="#cfd6de" />
<rect x="609.8" y="273" width="6.5" height="12.5" fill="#cfd6de" />
<rect x="556" y="272" width="8" height="15" fill="#ece2d2" />
<rect x="626" y="227.5" width="11.5" height="43" rx="1" fill="none" stroke="#f3f5f7" stroke-width="1.6"/>
<rect x="628.5" y="230" width="6.5" height="7" fill="#dde2e8" />
<rect x="628.5" y="240" width="6.5" height="7" fill="#dde2e8" />
<rect x="628.5" y="250" width="6.5" height="7" fill="#dde2e8" />
<rect x="628.5" y="260" width="6.5" height="7" fill="#dde2e8" />
<rect x="621" y="251" width="5" height="13" fill="#eadfce" />
<rect x="652.5" y="227.5" width="18" height="37.5" fill="#b4b4b8" />
<rect x="652.5" y="267" width="19" height="31" fill="#b4b4b8" />
<rect x="639" y="232" width="12" height="9" fill="#eeeeec" />
<rect x="639" y="246" width="12" height="9" fill="#eeeeec" />
<rect x="639" y="270" width="12" height="9" fill="#eeeeec" />
<rect x="639" y="284" width="12" height="9" fill="#eeeeec" />
<rect x="671.5" y="239" width="11" height="9" fill="#ecebe8" />
<rect x="671.5" y="276" width="11" height="11" fill="#ecebe8" />
<rect x="628" y="276" width="9.5" height="15" fill="#b4b4b8" />
<rect x="686.5" y="229.5" width="25" height="21.5" rx="1.5" fill="#efe8de" stroke="#f6f6f6" stroke-width="1.5"/>
<rect x="684.5" y="253" width="14" height="9" rx="1" fill="#b4bfcc" stroke="#f3f5f7" stroke-width="1.7"/>
<rect x="686.0" y="254.5" width="3.9200000000000004" height="6" fill="#e9ebee" />
<rect x="693.08" y="254.5" width="3.9200000000000004" height="6" fill="#e9ebee" />
<rect x="689.54" y="254.5" width="3.9200000000000004" height="6" fill="#cfd6de" />
<rect x="684.5" y="263" width="14" height="9" rx="1" fill="#b4bfcc" stroke="#f3f5f7" stroke-width="1.7"/>
<rect x="686.0" y="264.5" width="3.9200000000000004" height="6" fill="#e9ebee" />
<rect x="693.08" y="264.5" width="3.9200000000000004" height="6" fill="#e9ebee" />
<rect x="689.54" y="264.5" width="3.9200000000000004" height="6" fill="#cfd6de" />
<rect x="700" y="253" width="14" height="9" rx="1" fill="#b4bfcc" stroke="#f3f5f7" stroke-width="1.7"/>
<rect x="701.5" y="254.5" width="3.9200000000000004" height="6" fill="#e9ebee" />
<rect x="708.58" y="254.5" width="3.9200000000000004" height="6" fill="#e9ebee" />
<rect x="705.04" y="254.5" width="3.9200000000000004" height="6" fill="#cfd6de" />
<rect x="715" y="253" width="12" height="9" rx="1" fill="#b4bfcc" stroke="#f3f5f7" stroke-width="1.7"/>
<rect x="716.5" y="254.5" width="3.3600000000000003" height="6" fill="#e9ebee" />
<rect x="722.14" y="254.5" width="3.3600000000000003" height="6" fill="#e9ebee" />
<rect x="719.32" y="254.5" width="3.3600000000000003" height="6" fill="#cfd6de" />
<rect x="553" y="291" width="39" height="35" fill="#b8b7bd" />
<rect x="540" y="294.5" width="14" height="5" rx="2.5" fill="#f0f0f0"/>
<rect x="591.5" y="294.5" width="13" height="5" rx="2.5" fill="#f0f0f0"/>
<rect x="540" y="302.1" width="14" height="5" rx="2.5" fill="#f0f0f0"/>
<rect x="591.5" y="302.1" width="13" height="5" rx="2.5" fill="#f0f0f0"/>
<rect x="540" y="309.7" width="14" height="5" rx="2.5" fill="#f0f0f0"/>
<rect x="591.5" y="309.7" width="13" height="5" rx="2.5" fill="#f0f0f0"/>
<rect x="540" y="317.3" width="14" height="5" rx="2.5" fill="#f0f0f0"/>
<rect x="591.5" y="317.3" width="13" height="5" rx="2.5" fill="#f0f0f0"/>
<rect x="608.5" y="274" width="12" height="46" rx="1" fill="none" stroke="#f3f5f7" stroke-width="1.5"/>
<rect x="610.5" y="277" width="8" height="6" fill="#d8dde3" />
<rect x="610.5" y="287" width="8" height="6" fill="#d8dde3" />
<rect x="610.5" y="297" width="8" height="6" fill="#d8dde3" />
<rect x="610.5" y="307" width="8" height="6" fill="#d8dde3" />
<rect x="644" y="299" width="29" height="26" fill="#b4b4b8" />
<rect x="632" y="306" width="10" height="14" fill="#efefef" />
<rect x="675" y="306" width="8" height="14" fill="#efefef" />
<rect x="740" y="260" width="17" height="13" rx="1" fill="#b4bfcc" stroke="#f3f5f7" stroke-width="1.7"/>
<rect x="741.5" y="261.5" width="14" height="3.6400000000000006" fill="#e9ebee" />
<rect x="741.5" y="267.86" width="14" height="3.6400000000000006" fill="#e9ebee" />
<rect x="741.5" y="264.68" width="14" height="3.6400000000000006" fill="#e9dfd2" />
<rect x="740" y="274" width="15" height="9" rx="1" fill="#b4bfcc" stroke="#f3f5f7" stroke-width="1.7"/>
<rect x="741.5" y="275.5" width="4.2" height="6" fill="#e9ebee" />
<rect x="749.3" y="275.5" width="4.2" height="6" fill="#e9ebee" />
<rect x="745.4" y="275.5" width="4.2" height="6" fill="#d5dbe1" />
<rect x="740" y="287" width="15" height="29" rx="2" fill="#ede6dc" stroke="#f3f5f7" stroke-width="1.6"/>
<rect x="785" y="263" width="17" height="12" rx="1" fill="#b4bfcc" stroke="#f3f5f7" stroke-width="1.7"/>
<rect x="786.5" y="264.5" width="4.760000000000001" height="9" fill="#e9ebee" />
<rect x="795.74" y="264.5" width="4.760000000000001" height="9" fill="#e9ebee" />
<rect x="791.12" y="264.5" width="4.760000000000001" height="9" fill="#dfe4ea" />
<rect x="763" y="276" width="37" height="39" fill="#b8b7bd" />
<rect x="758.5" y="322" width="33" height="27" fill="#b1b1b4" />
<rect x="757" y="320" width="36" height="31" fill="none" stroke="#f3f5f7" stroke-width="1.2"/>
<rect x="794" y="330" width="10" height="16" rx="1" fill="#b4bfcc" stroke="#f3f5f7" stroke-width="1.7"/>
<rect x="795.5" y="331.5" width="7" height="4.48" fill="#e9ebee" />
<rect x="795.5" y="340.02" width="7" height="4.48" fill="#e9ebee" />
<rect x="795.5" y="335.76" width="7" height="4.48" fill="#e9e1d6" />
<rect x="794" y="312" width="10" height="14" rx="1" fill="#b4bfcc" stroke="#f3f5f7" stroke-width="1.7"/>
<rect x="795.5" y="313.5" width="7" height="3.9200000000000004" fill="#e9ebee" />
<rect x="795.5" y="320.58" width="7" height="3.9200000000000004" fill="#e9ebee" />
<rect x="795.5" y="317.04" width="7" height="3.9200000000000004" fill="#d5dbe1" />
<path d="M723.5,274.5 L704.5,281.5 L721.5,290 L705,298.5 L721,306.5 L706,314" fill="none" stroke="#f8f9fb" stroke-width="6.5" stroke-linejoin="bevel"/>
<path d="M716,300 L734.5,305.5 L724,296 Z" fill="#f8f9fb"/>
<path d="M712,309 L691.5,312 L708,320 Z" fill="#f8f9fb"/>
<circle cx="731.5" cy="318.5" r="5" fill="none" stroke="#f8f9fb" stroke-width="2"/>
<text x="728" y="321.5" font-family="Liberation Sans" font-size="8" fill="#f8f9fb">c</text>
<text x="693" y="335.5" font-family="Liberation Sans" font-weight="bold" font-size="13" fill="#f8f9fb" stroke="#f8f9fb" stroke-width="0.6" textLength="27" lengthAdjust="spacingAndGlyphs">BAT</text>
<rect x="656" y="328" width="31" height="8.5" rx="0" fill="#a8b0ba" stroke="#f3f5f7" stroke-width="1.5"/>
<rect x="660" y="330" width="5" height="4.5" fill="#8f959c" />
<rect x="668" y="330" width="5" height="4.5" fill="#8f959c" />
<rect x="676" y="330" width="5" height="4.5" fill="#8f959c" />
<rect x="552" y="329" width="88" height="30" fill="#b3b3b6" />
<rect x="557.0" y="331" width="2.6" height="13" fill="#e6e6e6" />
<rect x="563.7" y="331" width="2.6" height="13" fill="#e6e6e6" />
<rect x="570.4" y="331" width="2.6" height="13" fill="#e6e6e6" />
<rect x="577.1" y="331" width="2.6" height="13" fill="#e6e6e6" />
<rect x="583.8" y="331" width="2.6" height="13" fill="#e6e6e6" />
<rect x="590.5" y="331" width="2.6" height="13" fill="#e6e6e6" />
<rect x="597.2" y="331" width="2.6" height="13" fill="#e6e6e6" />
<rect x="603.9" y="331" width="2.6" height="13" fill="#e6e6e6" />
<rect x="610.6" y="331" width="2.6" height="13" fill="#e6e6e6" />
<rect x="617.3" y="331" width="2.6" height="13" fill="#e6e6e6" />
<rect x="624.0" y="331" width="2.6" height="13" fill="#e6e6e6" />
<rect x="630.7" y="331" width="2.6" height="13" fill="#e6e6e6" />
<path d="M546,350 Q546,344 552,344 H568.5 V352 Q568.5,357.5 574,357.5 H583 Q588,357.5 588,352 V344 H613 V352 Q613,357.5 619,357.5 H628 Q633,357.5 633,352 V344 H644 Q650.5,344 650.5,350 V430 H546 Z" fill="#f8f7f5"/>
<path d="M546,352 V430 M650.5,352 V430" stroke="#e8e6e3" stroke-width="1"/>
<ellipse cx="599" cy="372.5" rx="7" ry="2.8" fill="none" stroke="#d9d7d4" stroke-width="1"/>
<rect x="541" y="331" width="8.5" height="24" rx="4" fill="#c5c8cc" stroke="#f3f5f7" stroke-width="2"/>
<rect x="642" y="331" width="8" height="24" rx="4" fill="#c5c8cc" stroke="#f3f5f7" stroke-width="2"/>
<rect x="540.5" y="380" width="6.5" height="25" rx="3" fill="#f3f4f5"/>
<rect x="649.5" y="380" width="6.5" height="25" rx="3" fill="#f3f4f5"/>
<text x="414" y="296" transform="rotate(90 414 296)" font-family="Liberation Sans" font-weight="bold" font-size="17" fill="#f8f9fb" stroke="#f8f9fb" stroke-width="1">1.8</text>
<rect x="435" y="309.5" width="45" height="16.5" rx="0" fill="#e6e5e3" stroke="#f3f5f7" stroke-width="2"/>
<path d="M440,318 q6,-4 12,0 t14,0" stroke="#f8f8f8" stroke-width="2" fill="none"/>
<rect x="412.5" y="323.0" width="5.5" height="6" rx="0" fill="#a9b2bc" stroke="#f3f5f7" stroke-width="1.3"/>
<rect x="419.5" y="323.0" width="5.5" height="6" rx="0" fill="#a9b2bc" stroke="#f3f5f7" stroke-width="1.3"/>
<rect x="412.5" y="331.5" width="5.5" height="6" rx="0" fill="#a9b2bc" stroke="#f3f5f7" stroke-width="1.3"/>
<rect x="419.5" y="331.5" width="5.5" height="6" rx="0" fill="#a9b2bc" stroke="#f3f5f7" stroke-width="1.3"/>
<rect x="412.5" y="340.0" width="5.5" height="6" rx="0" fill="#a9b2bc" stroke="#f3f5f7" stroke-width="1.3"/>
<rect x="419.5" y="340.0" width="5.5" height="6" rx="0" fill="#a9b2bc" stroke="#f3f5f7" stroke-width="1.3"/>
<rect x="430" y="331" width="13" height="10" rx="1" fill="#b4bfcc" stroke="#f3f5f7" stroke-width="1.7"/>
<rect x="431.5" y="332.5" width="3.6400000000000006" height="7" fill="#e9ebee" />
<rect x="437.86" y="332.5" width="3.6400000000000006" height="7" fill="#e9ebee" />
<rect x="434.68" y="332.5" width="3.6400000000000006" height="7" fill="#cdd4dc" />
<rect x="446" y="331" width="22" height="10" rx="1" fill="#b4bfcc" stroke="#f3f5f7" stroke-width="1.7"/>
<rect x="447.5" y="332.5" width="6.16" height="7" fill="#e9ebee" />
<rect x="460.34" y="332.5" width="6.16" height="7" fill="#e9ebee" />
<rect x="453.92" y="332.5" width="6.16" height="7" fill="#cdd4dc" />
<rect x="471" y="331" width="14" height="10" rx="1" fill="#b4bfcc" stroke="#f3f5f7" stroke-width="1.7"/>
<rect x="472.5" y="332.5" width="3.9200000000000004" height="7" fill="#e9ebee" />
<rect x="479.58" y="332.5" width="3.9200000000000004" height="7" fill="#e9ebee" />
<rect x="476.04" y="332.5" width="3.9200000000000004" height="7" fill="#cdd4dc" />
<rect x="488" y="331" width="13" height="10" rx="1" fill="#b4bfcc" stroke="#f3f5f7" stroke-width="1.7"/>
<rect x="489.5" y="332.5" width="3.6400000000000006" height="7" fill="#e9ebee" />
<rect x="495.86" y="332.5" width="3.6400000000000006" height="7" fill="#e9ebee" />
<rect x="492.68" y="332.5" width="3.6400000000000006" height="7" fill="#cdd4dc" />
<rect x="504" y="331" width="13" height="10" rx="1" fill="#b4bfcc" stroke="#f3f5f7" stroke-width="1.7"/>
<rect x="505.5" y="332.5" width="3.6400000000000006" height="7" fill="#e9ebee" />
<rect x="511.86" y="332.5" width="3.6400000000000006" height="7" fill="#e9ebee" />
<rect x="508.68" y="332.5" width="3.6400000000000006" height="7" fill="#cdd4dc" />
<rect x="520" y="331" width="12" height="10" rx="1" fill="#b4bfcc" stroke="#f3f5f7" stroke-width="1.7"/>
<rect x="521.5" y="332.5" width="3.3600000000000003" height="7" fill="#e9ebee" />
<rect x="527.14" y="332.5" width="3.3600000000000003" height="7" fill="#e9ebee" />
<rect x="524.32" y="332.5" width="3.3600000000000003" height="7" fill="#cdd4dc" />
<rect x="490.5" y="316" width="18" height="11" rx="1" fill="#b4bfcc" stroke="#f3f5f7" stroke-width="1.7"/>
<rect x="492.0" y="317.5" width="5.040000000000001" height="8" fill="#e9ebee" />
<rect x="501.96" y="317.5" width="5.040000000000001" height="8" fill="#e9ebee" />
<rect x="496.98" y="317.5" width="5.040000000000001" height="8" fill="#cdd4dc" />
<rect x="511" y="316" width="19" height="11" rx="1" fill="#b4bfcc" stroke="#f3f5f7" stroke-width="1.7"/>
<rect x="512.5" y="317.5" width="5.32" height="8" fill="#e9ebee" />
<rect x="523.18" y="317.5" width="5.32" height="8" fill="#e9ebee" />
<rect x="517.84" y="317.5" width="5.32" height="8" fill="#cdd4dc" />
<text x="424" y="351" transform="rotate(90 424 351)" font-family="Liberation Sans" font-weight="bold" font-size="13.5" fill="#f8f9fb" stroke="#f8f9fb" stroke-width="0.7" >SPK</text>
<rect x="438" y="344" width="97" height="46" fill="#f5f3f0" />
<rect x="438" y="344" width="97" height="46" fill="none" stroke="#e6e3df" stroke-width="1"/>
<rect x="450" y="350" width="11" height="22" fill="#fbfaf8" />
<rect x="450" y="350" width="11" height="22" fill="none" stroke="#dddad6" stroke-width="1"/>
<rect x="518.5" y="350" width="10" height="22" fill="#fbfaf8" />
<rect x="518.5" y="350" width="10" height="22" fill="none" stroke="#dddad6" stroke-width="1"/>
<rect x="467" y="345" width="50" height="49" fill="#f8f6f2" />
<rect x="467" y="345" width="50" height="49" fill="none" stroke="#e4e0da" stroke-width="1"/>
<rect x="472" y="352" width="40" height="22" fill="#f1ebe2" />
<rect x="477" y="394" width="5.5" height="14" fill="#eeeeee" />
<rect x="491" y="394" width="5.5" height="14" fill="#eeeeee" />
<path d="M461,398.5 H470 M502,399 H512.5 M507.2,394 V404.5" stroke="#f8f9fb" stroke-width="2.2"/>
<rect x="660" y="348" width="95" height="40" fill="#f4f2ef" />
<rect x="664" y="352" width="14" height="30" fill="#fbfaf8" />
<rect x="664" y="352" width="14" height="30" fill="none" stroke="#dedbd7" stroke-width="1"/>
<rect x="738" y="352" width="14" height="30" fill="#fbfaf8" />
<rect x="738" y="352" width="14" height="30" fill="none" stroke="#dedbd7" stroke-width="1"/>
<rect x="677" y="341.5" width="57.5" height="53" fill="#f8f6f3" />
<rect x="677" y="341.5" width="57.5" height="53" fill="none" stroke="#e2dfda" stroke-width="1"/>
<rect x="681" y="345" width="20" height="18" rx="0" fill="#f3f0ec" stroke="#dcd8d2" stroke-width="1"/>
<rect x="709" y="345" width="21" height="18" rx="0" fill="#f3f0ec" stroke="#dcd8d2" stroke-width="1"/>
<rect x="702" y="342.5" width="5.5" height="20" fill="#8d8f92" />
<rect x="696" y="394.5" width="6" height="11" fill="#eeeeee" />
<rect x="712" y="394.5" width="6" height="11" fill="#eeeeee" />
<path d="M678,401.5 H687 M725.5,399.5 H733.5 M729.5,394.5 V404.5" stroke="#f8f9fb" stroke-width="2.2"/>
<rect x="640" y="305.5" width="41" height="18" fill="#b4b4b8" />
<rect x="643" y="307" width="5" height="15" fill="#eeeeee" />
<rect x="675" y="307" width="5" height="15" fill="#eeeeee" />
<rect x="628" y="180" width="8" height="16" rx="1" fill="#b4bfcc" stroke="#f3f5f7" stroke-width="1.7"/>
<rect x="629.5" y="181.5" width="5" height="4.48" fill="#e9ebee" />
<rect x="629.5" y="190.02" width="5" height="4.48" fill="#e9ebee" />
<rect x="629.5" y="185.76" width="5" height="4.48" fill="#d9cfc2" />
<rect x="637" y="180" width="8" height="16" rx="1" fill="#b4bfcc" stroke="#f3f5f7" stroke-width="1.7"/>
<rect x="638.5" y="181.5" width="5" height="4.48" fill="#e9ebee" />
<rect x="638.5" y="190.02" width="5" height="4.48" fill="#e9ebee" />
<rect x="638.5" y="185.76" width="5" height="4.48" fill="#d9cfc2" />
<rect x="669.5" y="214" width="13" height="14" rx="1" fill="#b4bfcc" stroke="#f3f5f7" stroke-width="1.7"/>
<rect x="671.0" y="215.5" width="3.6400000000000006" height="11" fill="#e9ebee" />
<rect x="677.36" y="215.5" width="3.6400000000000006" height="11" fill="#e9ebee" />
<rect x="674.18" y="215.5" width="3.6400000000000006" height="11" fill="#cfd6de" />
<rect x="687" y="213.5" width="7" height="17" rx="1" fill="#b4bfcc" stroke="#f3f5f7" stroke-width="1.7"/>
<rect x="688.5" y="215.0" width="4" height="4.760000000000001" fill="#e9ebee" />
<rect x="688.5" y="224.24" width="4" height="4.760000000000001" fill="#e9ebee" />
<rect x="688.5" y="219.62" width="4" height="4.760000000000001" fill="#e5d9c8" />
<rect x="695" y="213.5" width="7" height="17" rx="1" fill="#b4bfcc" stroke="#f3f5f7" stroke-width="1.7"/>
<rect x="696.5" y="215.0" width="4" height="4.760000000000001" fill="#e9ebee" />
<rect x="696.5" y="224.24" width="4" height="4.760000000000001" fill="#e9ebee" />
<rect x="696.5" y="219.62" width="4" height="4.760000000000001" fill="#cfd6de" />
<rect x="703" y="213.5" width="8" height="17" rx="1" fill="#b4bfcc" stroke="#f3f5f7" stroke-width="1.7"/>
<rect x="704.5" y="215.0" width="5" height="4.760000000000001" fill="#e9ebee" />
<rect x="704.5" y="224.24" width="5" height="4.760000000000001" fill="#e9ebee" />
<rect x="704.5" y="219.62" width="5" height="4.760000000000001" fill="#e5d9c8" />
<rect x="713" y="213.5" width="10" height="17" rx="1" fill="#b4bfcc" stroke="#f3f5f7" stroke-width="1.7"/>
<rect x="714.5" y="215.0" width="7" height="4.760000000000001" fill="#e9ebee" />
<rect x="714.5" y="224.24" width="7" height="4.760000000000001" fill="#e9ebee" />
<rect x="714.5" y="219.62" width="7" height="4.760000000000001" fill="#cfd6de" />
<rect x="724" y="213.5" width="10" height="17" rx="1" fill="#b4bfcc" stroke="#f3f5f7" stroke-width="1.7"/>
<rect x="725.5" y="215.0" width="7" height="4.760000000000001" fill="#e9ebee" />
<rect x="725.5" y="224.24" width="7" height="4.760000000000001" fill="#e9ebee" />
<rect x="725.5" y="219.62" width="7" height="4.760000000000001" fill="#e5d9c8" />
<rect x="715.5" y="234" width="9" height="17" rx="1" fill="#b4bfcc" stroke="#f3f5f7" stroke-width="1.7"/>
<rect x="717.0" y="235.5" width="6" height="4.760000000000001" fill="#e9ebee" />
<rect x="717.0" y="244.74" width="6" height="4.760000000000001" fill="#e9ebee" />
<rect x="717.0" y="240.12" width="6" height="4.760000000000001" fill="#cfd6de" />
<rect x="725.5" y="234" width="9" height="17" rx="1" fill="#b4bfcc" stroke="#f3f5f7" stroke-width="1.7"/>
<rect x="727.0" y="235.5" width="6" height="4.760000000000001" fill="#e9ebee" />
<rect x="727.0" y="244.74" width="6" height="4.760000000000001" fill="#e9ebee" />
<rect x="727.0" y="240.12" width="6" height="4.760000000000001" fill="#e5d9c8" />
<rect x="686" y="253" width="15" height="8" rx="1" fill="#b4bfcc" stroke="#f3f5f7" stroke-width="1.7"/>
<rect x="687.5" y="254.5" width="4.2" height="5" fill="#e9ebee" />
<rect x="695.3" y="254.5" width="4.2" height="5" fill="#e9ebee" />
<rect x="691.4" y="254.5" width="4.2" height="5" fill="#e5d9c8" />
<rect x="686" y="262" width="15" height="8" rx="1" fill="#b4bfcc" stroke="#f3f5f7" stroke-width="1.7"/>
<rect x="687.5" y="263.5" width="4.2" height="5" fill="#e9ebee" />
<rect x="695.3" y="263.5" width="4.2" height="5" fill="#e9ebee" />
<rect x="691.4" y="263.5" width="4.2" height="5" fill="#cfd6de" />
<rect x="702" y="253" width="11" height="17" rx="1" fill="#b4bfcc" stroke="#f3f5f7" stroke-width="1.7"/>
<rect x="703.5" y="254.5" width="3.08" height="14" fill="#e9ebee" />
<rect x="708.42" y="254.5" width="3.08" height="14" fill="#e9ebee" />
<rect x="705.96" y="254.5" width="3.08" height="14" fill="#cfd6de" />
<rect x="714" y="253" width="10" height="17" rx="1" fill="#b4bfcc" stroke="#f3f5f7" stroke-width="1.7"/>
<rect x="715.5" y="254.5" width="2.8000000000000003" height="14" fill="#e9ebee" />
<rect x="719.7" y="254.5" width="2.8000000000000003" height="14" fill="#e9ebee" />
<rect x="717.6" y="254.5" width="2.8000000000000003" height="14" fill="#e5d9c8" />
<rect x="725" y="253" width="10" height="17" rx="1" fill="#b4bfcc" stroke="#f3f5f7" stroke-width="1.7"/>
<rect x="726.5" y="254.5" width="2.8000000000000003" height="14" fill="#e9ebee" />
<rect x="730.7" y="254.5" width="2.8000000000000003" height="14" fill="#e9ebee" />
<rect x="728.6" y="254.5" width="2.8000000000000003" height="14" fill="#cfd6de" />
<rect x="739" y="259" width="18" height="10" rx="1" fill="#b4bfcc" stroke="#f3f5f7" stroke-width="1.7"/>
<rect x="740.5" y="260.5" width="5.040000000000001" height="7" fill="#e9ebee" />
<rect x="750.46" y="260.5" width="5.040000000000001" height="7" fill="#e9ebee" />
<rect x="745.48" y="260.5" width="5.040000000000001" height="7" fill="#e5d9c8" />
<rect x="739" y="270" width="18" height="9" rx="1" fill="#b4bfcc" stroke="#f3f5f7" stroke-width="1.7"/>
<rect x="740.5" y="271.5" width="5.040000000000001" height="6" fill="#e9ebee" />
<rect x="750.46" y="271.5" width="5.040000000000001" height="6" fill="#e9ebee" />
<rect x="745.48" y="271.5" width="5.040000000000001" height="6" fill="#cfd6de" />
<rect x="728" y="188" width="12" height="12" rx="1" fill="#b4bfcc" stroke="#f3f5f7" stroke-width="1.7"/>
<rect x="729.5" y="189.5" width="3.3600000000000003" height="9" fill="#e9ebee" />
<rect x="735.14" y="189.5" width="3.3600000000000003" height="9" fill="#e9ebee" />
<rect x="732.32" y="189.5" width="3.3600000000000003" height="9" fill="#cfd6de" />
<rect x="741" y="188" width="9" height="12" rx="1" fill="#b4bfcc" stroke="#f3f5f7" stroke-width="1.7"/>
<rect x="742.5" y="189.5" width="2.5200000000000005" height="9" fill="#e9ebee" />
<rect x="745.98" y="189.5" width="2.5200000000000005" height="9" fill="#e9ebee" />
<rect x="744.24" y="189.5" width="2.5200000000000005" height="9" fill="#e5d9c8" />
<rect x="751" y="188" width="9" height="12" rx="1" fill="#b4bfcc" stroke="#f3f5f7" stroke-width="1.7"/>
<rect x="752.5" y="189.5" width="2.5200000000000005" height="9" fill="#e9ebee" />
<rect x="755.98" y="189.5" width="2.5200000000000005" height="9" fill="#e9ebee" />
<rect x="754.24" y="189.5" width="2.5200000000000005" height="9" fill="#cfd6de" />
<rect x="740" y="204" width="20" height="11" rx="1" fill="#b4bfcc" stroke="#f3f5f7" stroke-width="1.7"/>
<rect x="741.5" y="205.5" width="5.6000000000000005" height="8" fill="#e9ebee" />
<rect x="752.9" y="205.5" width="5.6000000000000005" height="8" fill="#e9ebee" />
<rect x="747.2" y="205.5" width="5.6000000000000005" height="8" fill="#e5d9c8" />
<rect x="625" y="228" width="11" height="14" rx="1" fill="#b4bfcc" stroke="#f3f5f7" stroke-width="1.7"/>
<rect x="626.5" y="229.5" width="8" height="3.9200000000000004" fill="#e9ebee" />
<rect x="626.5" y="236.58" width="8" height="3.9200000000000004" fill="#e9ebee" />
<rect x="626.5" y="233.04" width="8" height="3.9200000000000004" fill="#e5d9c8" />
<rect x="625" y="243" width="11" height="13" rx="1" fill="#b4bfcc" stroke="#f3f5f7" stroke-width="1.7"/>
<rect x="626.5" y="244.5" width="8" height="3.6400000000000006" fill="#e9ebee" />
<rect x="626.5" y="250.86" width="8" height="3.6400000000000006" fill="#e9ebee" />
<rect x="626.5" y="247.68" width="8" height="3.6400000000000006" fill="#cfd6de" />
<rect x="625" y="257" width="11" height="13" rx="1" fill="#b4bfcc" stroke="#f3f5f7" stroke-width="1.7"/>
<rect x="626.5" y="258.5" width="8" height="3.6400000000000006" fill="#e9ebee" />
<rect x="626.5" y="264.86" width="8" height="3.6400000000000006" fill="#e9ebee" />
<rect x="626.5" y="261.68" width="8" height="3.6400000000000006" fill="#e5d9c8" />
<rect x="639" y="229" width="11" height="13" rx="1" fill="#b4bfcc" stroke="#f3f5f7" stroke-width="1.7"/>
<rect x="640.5" y="230.5" width="8" height="3.6400000000000006" fill="#e9ebee" />
<rect x="640.5" y="236.86" width="8" height="3.6400000000000006" fill="#e9ebee" />
<rect x="640.5" y="233.68" width="8" height="3.6400000000000006" fill="#eeeeec" />
<rect x="639" y="244" width="11" height="13" rx="1" fill="#b4bfcc" stroke="#f3f5f7" stroke-width="1.7"/>
<rect x="640.5" y="245.5" width="8" height="3.6400000000000006" fill="#e9ebee" />
<rect x="640.5" y="251.86" width="8" height="3.6400000000000006" fill="#e9ebee" />
<rect x="640.5" y="248.68" width="8" height="3.6400000000000006" fill="#eeeeec" />
<rect x="628" y="209" width="24.5" height="16" rx="1" fill="#a3a5a9" stroke="#f3f5f7" stroke-width="1.8"/>
<rect x="537" y="292" width="0.1" height="0.1" rx="1" fill="#b4bfcc" stroke="#f3f5f7" stroke-width="1.7"/>
<rect x="538.5" y="293.5" width="-2.9" height="0.028000000000000004" fill="#e9ebee" />
<rect x="538.5" y="290.572" width="-2.9" height="0.028000000000000004" fill="#e9ebee" />
<rect x="538.5" y="292.036" width="-2.9" height="0.028000000000000004" fill="#e6ddd0" />
<defs><linearGradient id="hg" x1="0" y1="0" x2="0" y2="1"><stop offset="0" stop-color="#1e4c87"/><stop offset="1" stop-color="#163a6d"/></linearGradient></defs>
<rect x="381" y="102.5" width="27" height="281" rx="1.5" fill="url(#hg)"/>
<path d="M381,360 L408,338 V383.5 H381 Z" fill="#122f5c" opacity="0.6"/>
<rect x="384.5" y="107.2" width="21.5" height="11" rx="5.5" fill="#cdcdcd" stroke="#eeeeee" stroke-width="1.8"/>
<rect x="396" y="108.7" width="8" height="8" rx="4" fill="#dedede"/>
<rect x="384.5" y="132.3" width="21.5" height="11" rx="5.5" fill="#cdcdcd" stroke="#eeeeee" stroke-width="1.8"/>
<rect x="396" y="133.8" width="8" height="8" rx="4" fill="#dedede"/>
<rect x="384.5" y="157.5" width="21.5" height="11" rx="5.5" fill="#cdcdcd" stroke="#eeeeee" stroke-width="1.8"/>
<rect x="396" y="159.0" width="8" height="8" rx="4" fill="#dedede"/>
<rect x="384.5" y="182.6" width="21.5" height="11" rx="5.5" fill="#cdcdcd" stroke="#eeeeee" stroke-width="1.8"/>
<rect x="396" y="184.1" width="8" height="8" rx="4" fill="#dedede"/>
<rect x="384.5" y="207.8" width="21.5" height="11" rx="5.5" fill="#cdcdcd" stroke="#eeeeee" stroke-width="1.8"/>
<rect x="396" y="209.3" width="8" height="8" rx="4" fill="#dedede"/>
<rect x="384.5" y="232.9" width="21.5" height="11" rx="5.5" fill="#cdcdcd" stroke="#eeeeee" stroke-width="1.8"/>
<rect x="396" y="234.4" width="8" height="8" rx="4" fill="#dedede"/>
<rect x="384.5" y="258.1" width="21.5" height="11" rx="5.5" fill="#cdcdcd" stroke="#eeeeee" stroke-width="1.8"/>
<rect x="396" y="259.6" width="8" height="8" rx="4" fill="#dedede"/>
<rect x="384.5" y="283.2" width="21.5" height="11" rx="5.5" fill="#cdcdcd" stroke="#eeeeee" stroke-width="1.8"/>
<rect x="396" y="284.8" width="8" height="8" rx="4" fill="#dedede"/>
<rect x="384.5" y="308.4" width="21.5" height="11" rx="5.5" fill="#cdcdcd" stroke="#eeeeee" stroke-width="1.8"/>
<rect x="396" y="309.9" width="8" height="8" rx="4" fill="#dedede"/>
<rect x="384.5" y="333.6" width="21.5" height="11" rx="5.5" fill="#cdcdcd" stroke="#eeeeee" stroke-width="1.8"/>
<rect x="396" y="335.1" width="8" height="8" rx="4" fill="#dedede"/>
<rect x="384.5" y="358.7" width="21.5" height="11" rx="5.5" fill="#cdcdcd" stroke="#eeeeee" stroke-width="1.8"/>
<rect x="396" y="360.2" width="8" height="8" rx="4" fill="#dedede"/>
<text x="395" y="129.9" text-anchor="middle" font-family="Liberation Sans" font-weight="bold" font-size="13.5" fill="#ffffff" stroke="#ffffff" stroke-width="0.5">18</text>
<text x="395" y="155.0" text-anchor="middle" font-family="Liberation Sans" font-weight="bold" font-size="13.5" fill="#ffffff" stroke="#ffffff" stroke-width="0.5">9</text>
<text x="395" y="180.2" text-anchor="middle" font-family="Liberation Sans" font-weight="bold" font-size="13.5" fill="#ffffff" stroke="#ffffff" stroke-width="0.5">D+</text>
<text x="395" y="205.3" text-anchor="middle" font-family="Liberation Sans" font-weight="bold" font-size="13.5" fill="#ffffff" stroke="#ffffff" stroke-width="0.5">D-</text>
<text x="395" y="230.5" text-anchor="middle" font-family="Liberation Sans" font-weight="bold" font-size="12.5" fill="#ffffff" stroke="#ffffff" stroke-width="0.5" textLength="25.5" lengthAdjust="spacingAndGlyphs">SCL</text>
<text x="395" y="255.6" text-anchor="middle" font-family="Liberation Sans" font-weight="bold" font-size="12.5" fill="#ffffff" stroke="#ffffff" stroke-width="0.5" textLength="25.5" lengthAdjust="spacingAndGlyphs">SDA</text>
<text x="395" y="280.8" text-anchor="middle" font-family="Liberation Sans" font-weight="bold" font-size="13.5" fill="#ffffff" stroke="#ffffff" stroke-width="0.5">TX</text>
<text x="395" y="305.9" text-anchor="middle" font-family="Liberation Sans" font-weight="bold" font-size="13.5" fill="#ffffff" stroke="#ffffff" stroke-width="0.5">RX</text>
<text x="395" y="331.1" text-anchor="middle" font-family="Liberation Sans" font-weight="bold" font-size="12.5" fill="#ffffff" stroke="#ffffff" stroke-width="0.5" textLength="25.5" lengthAdjust="spacingAndGlyphs">3V3</text>
<text x="395" y="356.2" text-anchor="middle" font-family="Liberation Sans" font-weight="bold" font-size="13.5" fill="#ffffff" stroke="#ffffff" stroke-width="0.5">G</text>
<text x="395" y="381.4" text-anchor="middle" font-family="Liberation Sans" font-weight="bold" font-size="13.5" fill="#ffffff" stroke="#ffffff" stroke-width="0.5">5V</text>
<circle cx="386" cy="125" r="1.1" fill="#0e2f5c"/>
<circle cx="386" cy="150" r="1.1" fill="#0e2f5c"/>
<circle cx="386" cy="175" r="1.1" fill="#0e2f5c"/>
<circle cx="386" cy="200" r="1.1" fill="#0e2f5c"/>
<circle cx="386" cy="225" r="1.1" fill="#0e2f5c"/>
<circle cx="386" cy="250" r="1.1" fill="#0e2f5c"/>
<circle cx="386" cy="275" r="1.1" fill="#0e2f5c"/>
<circle cx="386" cy="300" r="1.1" fill="#0e2f5c"/>
<circle cx="386" cy="325" r="1.1" fill="#0e2f5c"/>
<circle cx="386" cy="350" r="1.1" fill="#0e2f5c"/>
<circle cx="386" cy="375" r="1.1" fill="#0e2f5c"/><g fill="none" stroke="#686868" stroke-width="2"><polyline points="252,65 357,65 357,112.7 395,112.7" /><polyline points="252,99 339,99 339,137.85 395,137.85" /><polyline points="252,134 327,134 327,163.0 395,163.0" /><polyline points="252,166 316,166 316,188.14999999999998 395,188.14999999999998" /><polyline points="252,200 314,200 314,213.3 395,213.3" /><polyline points="252,232 306,232 306,238.45 395,238.45" /><polyline points="252,264 395,264" /><polyline points="252,298 306,298 306,288.75 395,288.75" /><polyline points="252,333 316,333 316,313.9 395,313.9" /><polyline points="252,367 327,367 327,339.05 395,339.05" /><polyline points="252,399 339,399 339,364.2 395,364.2" /></g>
<g fill="#858585"><circle cx="395" cy="112.7" r="3.7"/><circle cx="395" cy="137.8" r="3.7"/><circle cx="395" cy="163.0" r="3.7"/><circle cx="395" cy="188.1" r="3.7"/><circle cx="395" cy="213.3" r="3.7"/><circle cx="395" cy="238.4" r="3.7"/><circle cx="395" cy="263.6" r="3.7"/><circle cx="395" cy="288.8" r="3.7"/><circle cx="395" cy="313.9" r="3.7"/><circle cx="395" cy="339.1" r="3.7"/><circle cx="395" cy="364.2" r="3.7"/></g>
</svg>
</body></html>
